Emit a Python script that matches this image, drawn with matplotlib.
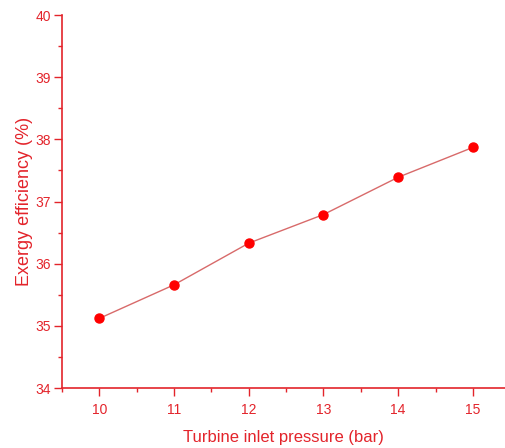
import numpy as np
import matplotlib.pyplot as plt
from matplotlib.ticker import MultipleLocator

plt.rcParams['font.family'] = ['Liberation Sans', 'DejaVu Sans']

pressure = [10, 11, 12, 13, 14, 15]
efficiency = [35.12, 35.66, 36.33, 36.79, 37.39, 37.87]

red = '#e3242b'

fig = plt.figure(figsize=(5.05, 4.48), dpi=100)
ax = fig.add_axes([62 / 505, 60 / 448, 443 / 505, 373 / 448])

ax.plot(pressure, efficiency, color='#d86a6a', lw=1.0, zorder=2)
ax.plot(pressure, efficiency, 'o', color='#ff0000', ms=6.5, zorder=3)

ax.set_xlim(9.5, 15.43)
ax.set_ylim(34, 40)
ax.xaxis.set_major_locator(MultipleLocator(1))
ax.xaxis.set_minor_locator(MultipleLocator(0.5))
ax.yaxis.set_major_locator(MultipleLocator(1))
ax.yaxis.set_minor_locator(MultipleLocator(0.5))

for s in ['top', 'right']:
    ax.spines[s].set_visible(False)
for s in ['left', 'bottom']:
    ax.spines[s].set_color(red)
    ax.spines[s].set_linewidth(1.2)

ax.tick_params(which='both', colors=red, labelcolor=red, direction='out')
ax.tick_params(which='major', length=6, width=1, labelsize=10)
ax.tick_params(axis='x', which='major', pad=5)
ax.tick_params(axis='y', which='major', pad=2)
ax.tick_params(which='minor', length=3, width=1)

ax.set_xlabel('Turbine inlet pressure (bar)', color=red, fontsize=12, labelpad=9)
ax.set_ylabel('Exergy efficiency (%)', color=red, fontsize=13, labelpad=2)

fig.savefig('out.png', dpi=100)
